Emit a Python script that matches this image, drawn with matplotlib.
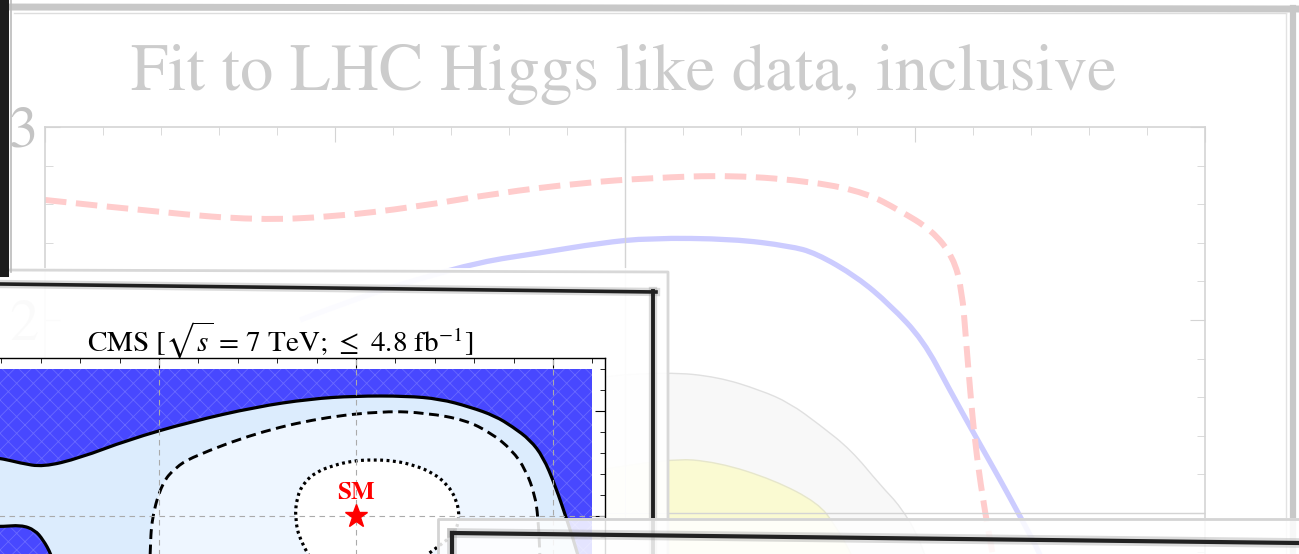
import numpy as np
import matplotlib.pyplot as plt
from matplotlib.patches import Rectangle, PathPatch
from matplotlib.path import Path
from matplotlib.lines import Line2D

plt.rcParams['font.family'] = ['STIXGeneral', 'DejaVu Serif']
plt.rcParams['mathtext.fontset'] = 'stix'
plt.rcParams['hatch.linewidth'] = 0.6

W, H = 1299, 554

# back slide: fit to LHC Higgs like data
pink_x = [0.000, 0.209, 0.366, 0.495, 0.638, 0.781, 0.924, 1.043, 1.186, 1.329,
          1.416, 1.472, 1.529, 1.566, 1.581, 1.588, 1.595, 1.603, 1.617, 1.634, 1.647]
pink_y = [2.622, 2.554, 2.518, 2.534, 2.585, 2.658, 2.710, 2.736, 2.751, 2.715,
          2.658, 2.570, 2.466, 2.326, 2.155, 1.896, 1.637, 1.378, 1.067, 0.788, 0.549]
lav_x = [0.440, 0.543, 0.638, 0.750, 0.852, 0.957, 1.043, 1.186, 1.284, 1.329,
         1.400, 1.457, 1.514, 1.560, 1.603, 1.647, 1.678, 1.716, 1.750]
lav_y = [2.000, 2.119, 2.207, 2.301, 2.347, 2.399, 2.425, 2.420, 2.383, 2.347,
         2.223, 2.078, 1.896, 1.637, 1.404, 1.171, 1.000, 0.788, 0.549]
gray_x = [0.819, 0.922, 1.074, 1.160, 1.233, 1.284, 1.336, 1.390, 1.440, 1.476, 1.509, 1.543]
gray_y = [1.585, 1.699, 1.731, 1.705, 1.637, 1.570, 1.456, 1.326, 1.145, 1.031, 0.860, 0.549]
yel_x = [0.957, 1.074, 1.160, 1.257, 1.333, 1.362, 1.391, 1.426]
yel_y = [1.223, 1.285, 1.264, 1.171, 1.052, 0.938, 0.788, 0.549]
back_yticks = [1, 2, 3]

# front slide: CMS kappa plot
solid_x = [0.000, 0.096, 0.147, 0.206, 0.299, 0.421, 0.579, 0.746, 0.883, 0.997, 1.127,
           1.213, 1.289, 1.353, 1.398, 1.442, 1.475, 1.505, 1.538, 1.563, 1.594]
solid_y = [1.300, 1.276, 1.252, 1.233, 1.276, 1.362, 1.448, 1.519, 1.557, 1.571, 1.571,
           1.557, 1.519, 1.476, 1.424, 1.362, 1.281, 1.148, 0.967, 0.819, 0.600]
low_x = [0.000, 0.096, 0.150, 0.185, 0.206, 0.226, 0.249]
low_y = [0.950, 0.948, 0.957, 0.933, 0.886, 0.819, 0.695]
dash_x = [0.477, 0.477, 0.482, 0.508, 0.541, 0.584, 0.746, 0.909, 1.074, 1.180,
          1.277, 1.343, 1.396, 1.431, 1.454, 1.462, 1.467, 1.467]
dash_y = [0.743, 0.819, 0.995, 1.157, 1.229, 1.281, 1.395, 1.467, 1.500, 1.490,
          1.457, 1.395, 1.314, 1.219, 1.100, 0.995, 0.819, 0.743]
dot_x = [0.890, 0.858, 0.845, 0.850, 0.868, 0.900, 0.942, 0.990, 1.045, 1.100,
         1.150, 1.195, 1.232, 1.256, 1.263, 1.250, 1.213, 1.162]
dot_y = [0.780, 0.880, 0.990, 1.090, 1.160, 1.210, 1.240, 1.262, 1.268, 1.262,
         1.240, 1.205, 1.150, 1.075, 0.990, 0.915, 0.860, 0.790]
sm_x, sm_y = 1.0, 1.0


def box(l, t, r, b):
    return [l / W, 1 - b / H, (r - l) / W, (b - t) / H]


def fline(xs, ys, **kw):
    ln = Line2D([x / W for x in xs], [1 - y / H for y in ys], transform=fig.transFigure, **kw)
    fig.add_artist(ln)


def frect(l, t, r, b, **kw):
    p = Rectangle((l / W, 1 - b / H), (r - l) / W, (b - t) / H, transform=fig.transFigure, **kw)
    fig.add_artist(p)


def smooth(xs, ys, close=False):
    # quadratic bezier through the midpoints, the read points act as controls
    pts = np.column_stack([xs, ys])
    verts = [pts[0]]
    codes = [Path.MOVETO]
    for i in range(1, len(pts) - 1):
        mid = (pts[i] + pts[i + 1]) / 2
        verts += [pts[i], mid]
        codes += [Path.CURVE3, Path.CURVE3]
    verts.append(pts[-1])
    codes.append(Path.LINETO)
    if close:
        verts.append(pts[0])
        codes.append(Path.CLOSEPOLY)
    return Path(verts, codes)


def curve(axis, xs, ys, **kw):
    axis.add_patch(PathPatch(smooth(xs, ys), facecolor='none', capstyle='butt', **kw))


def area(axis, xs, ys, **kw):
    axis.add_patch(PathPatch(smooth(xs, ys, close=True), lw=0, **kw))


fig = plt.figure(figsize=(12.99, 5.54), dpi=100)

# ---- back slide ----
lg = '#d4d4d4'
ax = fig.add_axes(box(45, 127, 1205, 706))
ax.set_zorder(0)
ax.set_xlim(0, 2)
ax.set_ylim(0, 3)
area(ax, np.r_[gray_x, gray_x[-1], gray_x[0]], np.r_[gray_y, 0.3, 0.3], facecolor='#f8f8f8')
curve(ax, gray_x, gray_y, edgecolor='#e0e0e0', lw=1)
area(ax, np.r_[yel_x, yel_x[-1], yel_x[0]], np.r_[yel_y, 0.3, 0.3], facecolor='#fafad2')
curve(ax, yel_x, yel_y, edgecolor='#e6e6cc', lw=1)
ax.axvline(1, color=lg, lw=1)
ax.axhline(1, color=lg, lw=1)
curve(ax, lav_x, lav_y, edgecolor='#ccccff', lw=3.8)
curve(ax, pink_x, pink_y, edgecolor='#ffcccc', lw=4.3, linestyle=(0, (3.6, 1.6)))
ax.set_xticks([0, 0.5, 1, 1.5, 2])
ax.set_xticks(np.arange(0, 2.01, 0.1), minor=True)
ax.set_yticks(back_yticks)
ax.set_yticks(np.arange(0, 3.01, 0.2), minor=True)
ax.set_xticklabels([])
ax.set_yticklabels([str(v) for v in back_yticks], fontsize=42, color='#c4c4c4')
ax.tick_params(which='both', direction='in', top=True, right=True, color=lg, pad=5)
ax.tick_params(which='major', length=11)
ax.tick_params(which='minor', length=6)
for s in ax.spines.values():
    s.set_color(lg)
    s.set_linewidth(1.2)

fig.text(624 / W, 1 - 90 / H, 'Fit to LHC Higgs like data, inclusive', ha='center',
         va='baseline', fontsize=48, color='#cccccc', zorder=1)

# outer slide frame
fline([0, 1299], [7, 9], color='#c8c8c8', lw=5, zorder=1)
fline([14, 1286], [13, 13], color='#dddddd', lw=1, zorder=1)
fline([1293, 1293], [8, 554], color='#c8c8c8', lw=4.5, zorder=1)
fline([1286, 1286], [13, 554], color='#e2e2e2', lw=1, zorder=1)
fline([4, 4], [0, 272], color='#1c1c1c', lw=6.5, zorder=6)
fline([11, 11], [0, 272], color='#bbbbbb', lw=1.2, zorder=6)

# ---- CMS slide ----
frect(-10, 268, 668, 580, facecolor='white', alpha=0.93, edgecolor='none', zorder=2)
fline([0, 668, 668], [270, 272, 580], color='#d8d8d8', lw=2, zorder=2)
fline([0, 656], [284, 292], color='#999999', lw=6, alpha=0.35, zorder=2)
fline([653, 653], [291, 560], color='#999999', lw=6, alpha=0.35, zorder=2)
fline([0, 656], [284, 292], color='#202020', lw=2.6, zorder=2)
fline([653, 653], [291, 560], color='#202020', lw=2.8, zorder=2)

ax2 = fig.add_axes(box(-38, 358, 605, 726))
ax2.set_zorder(3)
ax2.set_xlim(0, 1.632)
ax2.set_ylim(0, 1.752)
ax2.add_patch(Rectangle((0, 0), 1.6, 1.7, facecolor='#4848ff', edgecolor='#6a6aff',
                        hatch='xx', lw=0))
area(ax2, np.r_[solid_x, low_x[::-1]], np.r_[solid_y, low_y[::-1]], facecolor='#dcecfd')
area(ax2, dash_x, dash_y, facecolor='#eef6ff')
area(ax2, dot_x + dot_x[:1], dot_y + dot_y[:1], facecolor='white')
for gxv in [0.5, 1.0, 1.5]:
    ax2.axvline(gxv, color='#aaaaaa', lw=0.8, dashes=(5, 4))
ax2.axhline(1.0, color='#aaaaaa', lw=0.8, dashes=(5, 4))
curve(ax2, solid_x, solid_y, edgecolor='black', lw=2.3)
curve(ax2, low_x, low_y, edgecolor='black', lw=2.3)
curve(ax2, dash_x, dash_y, edgecolor='black', lw=2.1, linestyle=(0, (3.4, 1.9)))
curve(ax2, dot_x, dot_y, edgecolor='black', lw=2.3, linestyle=(0, (0.9, 1.1)))
ax2.plot(sm_x, sm_y, marker='*', ms=17, color='red', mec='red', zorder=4)
ax2.text(sm_x, sm_y + 0.055, 'SM', color='red', fontsize=18, fontweight='bold',
         ha='center', va='bottom', zorder=4)
ax2.set_xticks([0, 0.5, 1, 1.5])
ax2.set_xticks(np.arange(0, 1.63, 0.1), minor=True)
ax2.set_yticks([0, 0.5, 1, 1.5])
ax2.set_yticks(np.arange(0, 1.75, 0.1), minor=True)
ax2.set_xticklabels([])
ax2.set_yticklabels([])
ax2.tick_params(which='both', direction='in', top=True, right=True)
ax2.tick_params(which='major', length=7)
ax2.tick_params(which='minor', length=3.5)
for s in ax2.spines.values():
    s.set_linewidth(1)

fig.text(280 / W, 1 - 340 / H, r'CMS [$\sqrt{s}$ = 7 TeV; $\leq$ 4.8 fb$^{-1}$]',
         ha='center', va='center', fontsize=21, color='black', zorder=4)

# ---- bottom right slide ----
frect(438, 518, 1310, 580, facecolor='white', alpha=0.86, edgecolor='none', zorder=5)
fline([438, 438, 1299], [580, 519, 519], color='#d4d4d4', lw=2, zorder=5)
fline([452, 1299], [533, 543], color='#999999', lw=7, alpha=0.35, zorder=5)
fline([452, 452], [533, 560], color='#999999', lw=7, alpha=0.35, zorder=5)
fline([452, 1299], [533, 543], color='#222222', lw=3, zorder=5)
fline([452, 452], [533, 560], color='#222222', lw=3, zorder=5)

fig.savefig('out.png', dpi=100)
